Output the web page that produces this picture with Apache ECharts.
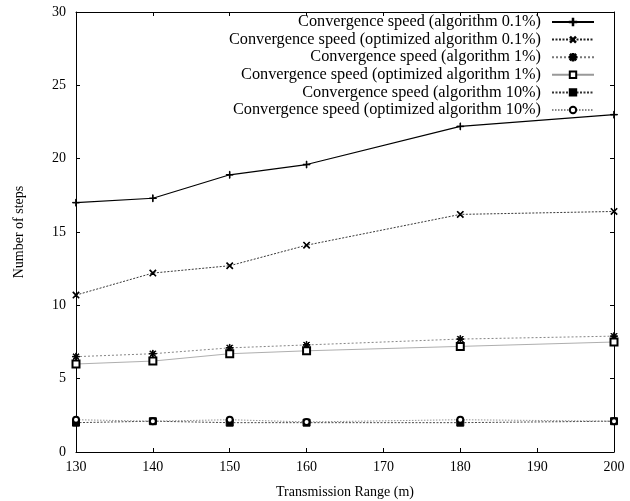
<!DOCTYPE html>
<html lang="en">
<head>
<meta charset="UTF-8">
<title>Convergence speed</title>
<script src="https://cdn.jsdelivr.net/npm/echarts@6/dist/echarts.min.js"></script>
<style>
    html, body { margin: 0; padding: 0; background: #fff; }
    #container { width: 630px; height: 501px; }
</style>
</head>
<body>
<div id="container"></div>
<script type="text/javascript">
    // transmission range (m)
    var ranges = [130, 140, 150, 160, 180, 200];
    // number of steps
    var alg01 = [17.0, 17.3, 18.9, 19.6, 22.2, 23.0];
    var opt01 = [10.7, 12.2, 12.7, 14.1, 16.2, 16.4];
    var alg1 = [6.5, 6.7, 7.1, 7.3, 7.7, 7.9];
    var opt1 = [6.0, 6.2, 6.7, 6.9, 7.2, 7.5];
    var alg10 = [2.0, 2.1, 2.0, 2.0, 2.0, 2.1];
    var opt10 = [2.2, 2.1, 2.2, 2.05, 2.2, 2.1];

    var names = [
        'Convergence speed (algorithm 0.1%)',
        'Convergence speed (optimized algorithm 0.1%)',
        'Convergence speed (algorithm 1%)',
        'Convergence speed (optimized algorithm 1%)',
        'Convergence speed (algorithm 10%)',
        'Convergence speed (optimized algorithm 10%)'
    ];

    var font = '"Liberation Serif", "DejaVu Serif", serif';
    // gnuplot style point markers
    var plus = 'path://M4.6,0H5.4V4.6H10V5.4H5.4V10H4.6V5.4H0V4.6H4.6Z';
    var star = 'path://M4.5,0H5.5V4.5H10V5.5H5.5V10H4.5V5.5H0V4.5H4.5Z'
        + 'M0.7,1.4L1.4,0.7L9.3,8.6L8.6,9.3Z M8.6,0.7L9.3,1.4L1.4,9.3L0.7,8.6Z';

    function pairs(arr) {
        return ranges.map(function (x, i) { return [x, arr[i]]; });
    }

    function line(name, data, symbol, color, type, width, rotate, size) {
        return {
            name: name,
            type: 'line',
            data: pairs(data),
            symbol: symbol,
            symbolSize: size || 7,
            symbolRotate: rotate || 0,
            showAllSymbol: true,
            animation: false,
            itemStyle: { color: '#000', borderColor: '#000', borderWidth: 1 },
            lineStyle: { color: color, type: type, width: width }
        };
    }

    var dom = document.getElementById('container');
    var myChart = echarts.init(dom, null, { renderer: 'canvas' });

    var axisBase = {
        type: 'value',
        axisLine: { show: true, onZero: false, lineStyle: { color: '#000', width: 1 } },
        axisTick: { show: true, inside: true, length: 4, lineStyle: { color: '#000' } },
        splitLine: { show: false }
    };

    var option = {
        backgroundColor: '#fff',
        textStyle: { fontFamily: font },
        legend: {
            orient: 'vertical',
            align: 'right',
            right: 30,
            top: 8.5,
            itemWidth: 42,
            itemHeight: 8,
            itemGap: 0.6,
            textStyle: {
                fontFamily: font, fontSize: 16.3, lineHeight: 17, color: '#000',
                padding: [0, 6, 0, 0]
            },
            data: names
        },
        grid: { left: 76, right: 16, top: 12, bottom: 49, outerBoundsMode: 'none' },
        xAxis: [
            Object.assign({}, axisBase, {
                min: 130, max: 200, interval: 10,
                name: 'Transmission Range (m)',
                nameLocation: 'middle',
                nameGap: 33,
                nameTextStyle: { fontFamily: font, fontSize: 14, color: '#000' },
                axisLabel: { fontFamily: font, fontSize: 14, color: '#000', margin: 8 }
            }),
            Object.assign({}, axisBase, {
                min: 130, max: 200, interval: 10, position: 'top',
                axisLabel: { show: false }
            })
        ],
        yAxis: [
            Object.assign({}, axisBase, {
                min: 0, max: 30, interval: 5,
                name: 'Number of steps',
                nameLocation: 'middle',
                nameGap: 50,
                nameTextStyle: { fontFamily: font, fontSize: 14, color: '#000' },
                axisLabel: { fontFamily: font, fontSize: 14, color: '#000', margin: 10 }
            }),
            Object.assign({}, axisBase, {
                min: 0, max: 30, interval: 5, position: 'right',
                axisLabel: { show: false }
            })
        ],
        series: [
            line(names[0], alg01, plus, '#000', 'solid', 1.2, 0, 7),
            line(names[1], opt01, plus, '#222', [2, 1.5], 0.9, 45, 8),
            line(names[2], alg1, star, '#777', [2, 2], 0.9, 0, 7),
            line(names[3], opt1, 'emptyRect', '#999', 'solid', 0.8, 0, 7),
            line(names[4], alg10, 'rect', '#333', [2, 1.5], 0.9, 0, 7),
            line(names[5], opt10, 'emptyCircle', '#888', [1.5, 1.5], 0.9, 0, 6)
        ]
    };
    myChart.setOption(option);
</script>
</body>
</html>
